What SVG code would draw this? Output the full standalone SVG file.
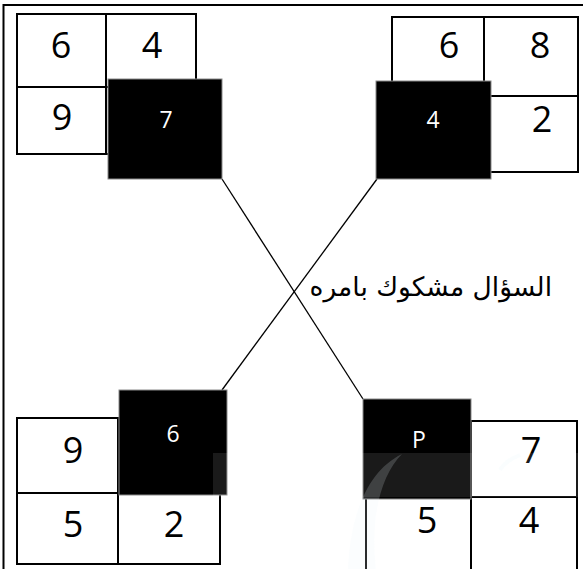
<svg xmlns="http://www.w3.org/2000/svg" width="586" height="569" viewBox="0 0 586 569">
<style>
.cell{fill:#fff;stroke:#000;stroke-width:2}
.grid{fill:none;stroke:#000;stroke-width:2}
.blk{fill:#000;stroke:#8a8a8a;stroke-width:1}
.big{font-family:"Open Sans","DejaVu Sans",sans-serif;font-size:36px;fill:#000;text-anchor:middle}
.sm{font-family:"Open Sans","DejaVu Sans",sans-serif;font-size:23px;fill:#fff;text-anchor:middle}
.con{stroke:#000;stroke-width:1.3;fill:none}
.ar{font-family:"DejaVu Sans",sans-serif;font-size:26.5px;fill:#000}
</style>
<rect x="0" y="0" width="586" height="569" fill="#fff"/>
<path d="M3.5 569 V5 H583" fill="none" stroke="#000" stroke-width="2"/>

<g id="connectors">
<line class="con" x1="222" y1="179" x2="363" y2="399"/>
<line class="con" x1="377" y1="179" x2="222" y2="390"/>
</g>

<g id="node-top-left">
<rect class="cell" x="17" y="14" width="179" height="140"/>
<path class="grid" d="M106 14 V154 M17 87 H196"/>
<text class="big" x="61" y="58">6</text>
<text class="big" x="152" y="58">4</text>
<text class="big" x="62" y="130">9</text>
<rect class="blk" x="108" y="79" width="114" height="100"/>
<text class="sm" x="166" y="128">7</text>
</g>

<g id="node-top-right">
<rect class="cell" x="392" y="17" width="186" height="155"/>
<path class="grid" d="M484 17 V172 M392 96 H578"/>
<text class="big" x="449" y="58">6</text>
<text class="big" x="540" y="58">8</text>
<text class="big" x="542" y="132">2</text>
<rect class="blk" x="376" y="81" width="115" height="98"/>
<text class="sm" x="433" y="128">4</text>
</g>

<g id="node-bottom-left">
<rect class="cell" x="17" y="418" width="203" height="146"/>
<path class="grid" d="M118 418 V564 M17 493 H220"/>
<text class="big" x="73" y="463">9</text>
<text class="big" x="73" y="537">5</text>
<text class="big" x="174" y="537">2</text>
<rect class="blk" x="119" y="390" width="108" height="105"/>
<text class="sm" x="173" y="442">6</text>
</g>

<g id="node-bottom-right">
<rect class="cell" x="366" y="421" width="211" height="160"/>
<path class="grid" d="M471 421 V581 M366 497 H577"/>
<text class="big" x="531" y="463">7</text>
<text class="big" x="427" y="533">5</text>
<text class="big" x="529" y="533">4</text>
<rect class="blk" x="363" y="399" width="108" height="100"/>
<text class="sm" x="419" y="448">P</text>
</g>

<g id="label">
<text class="ar" x="552" y="296" text-anchor="end">السؤال مشكوك بامره</text>
</g>

<g id="watermark">
<rect x="213" y="453" width="367" height="44" fill="#fff" opacity="0.1"/>
<path d="M348 569 C350 520 365 472 402 454 C380 476 370 520 376 569 Z" fill="#e8f3fc" opacity="0.18"/>
<path d="M500 470 C505 462 512 458 520 455" fill="none" stroke="#e8f3fc" stroke-width="4" opacity="0.2"/>
</g>
</svg>
